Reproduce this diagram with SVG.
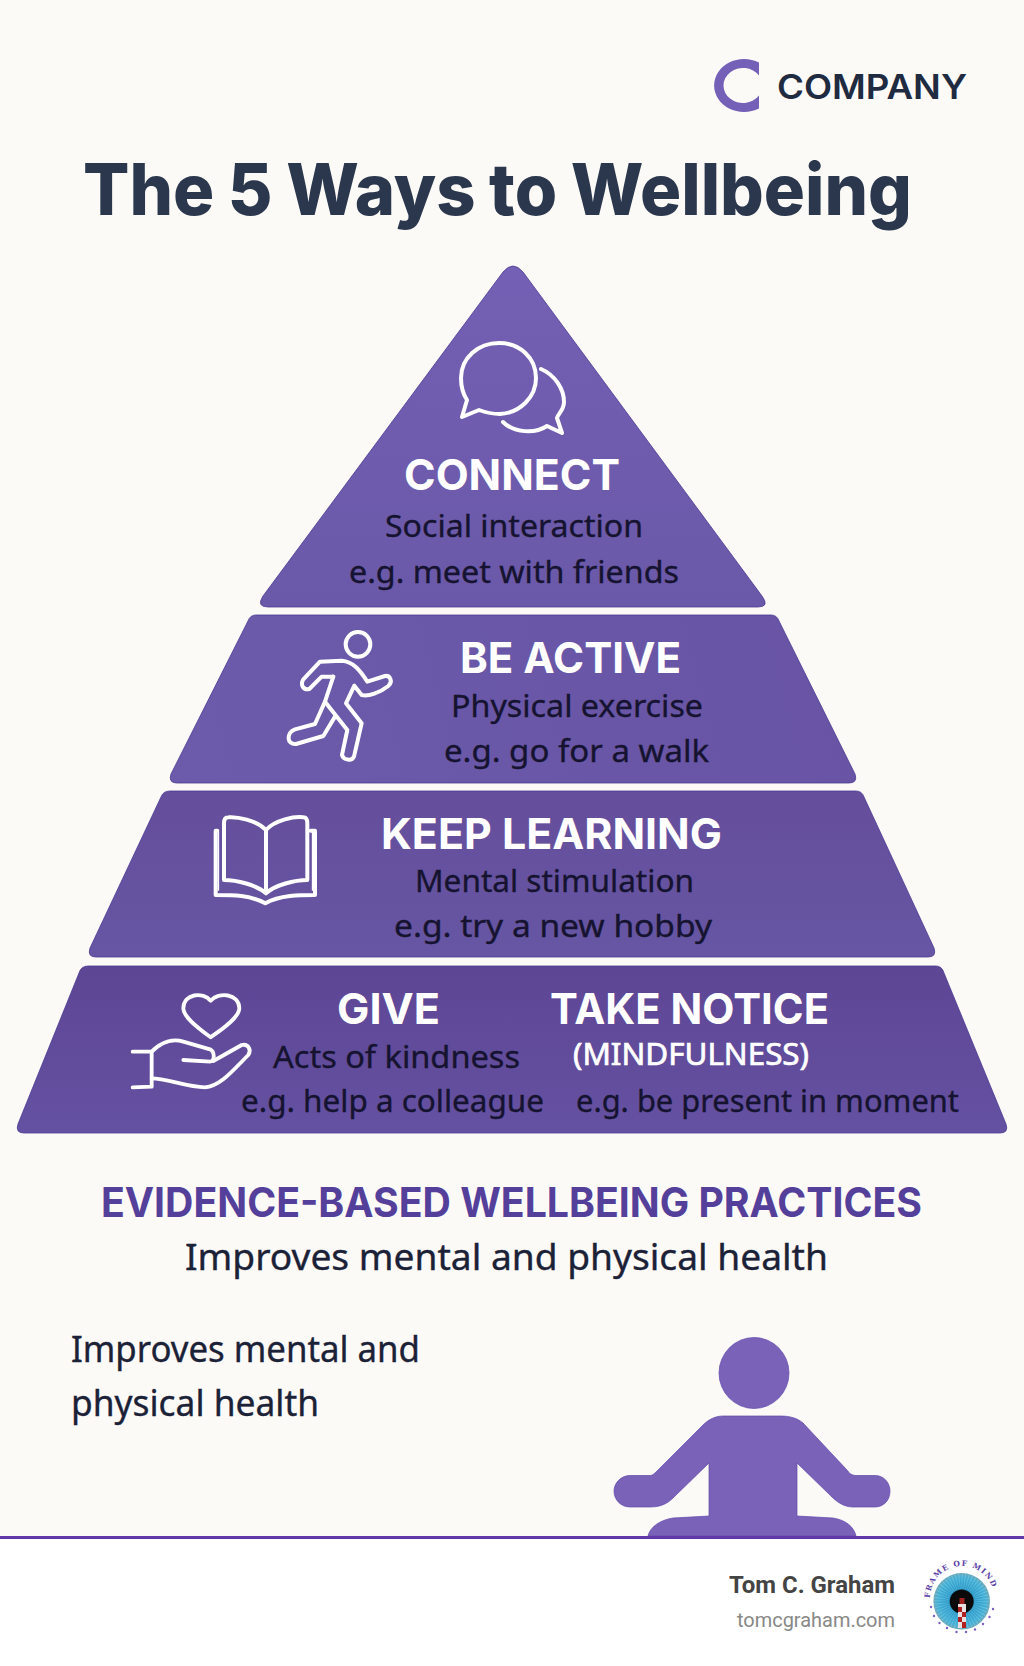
<svg xmlns="http://www.w3.org/2000/svg" width="1024" height="1666" viewBox="0 0 1024 1666">
<style>
.h{font-family:"Inter","Liberation Sans",sans-serif;font-weight:700;font-size:43px;fill:#fff}
.b{font-family:"Noto Sans","Liberation Sans",sans-serif;font-weight:400;font-size:31px;fill:#15132f;stroke:#15132f;stroke-width:.35}
.t{font-family:"Noto Sans","Liberation Sans",sans-serif;font-weight:400;font-size:36px;fill:#1b2136;stroke:#1b2136;stroke-width:.35}
.ic{fill:none;stroke:#fff;stroke-linecap:round;stroke-linejoin:round}
.bd{stroke:#4a3a92;stroke-width:.8}
</style>
<defs>
<linearGradient id="g1" gradientUnits="userSpaceOnUse" x1="513" y1="266" x2="513" y2="607"><stop offset="0" stop-color="#7460b4"/><stop offset="1" stop-color="#6a58a8"/></linearGradient>
<linearGradient id="g2" gradientUnits="userSpaceOnUse" x1="170" y1="783" x2="856" y2="615"><stop offset="0" stop-color="#6c5bab"/><stop offset=".6" stop-color="#6956a7"/><stop offset="1" stop-color="#6954a4"/></linearGradient>
<linearGradient id="g3" gradientUnits="userSpaceOnUse" x1="512" y1="791" x2="512" y2="957"><stop offset="0" stop-color="#654e9c"/><stop offset="1" stop-color="#6656a3"/></linearGradient>
<linearGradient id="g4" gradientUnits="userSpaceOnUse" x1="512" y1="966" x2="512" y2="1133"><stop offset="0" stop-color="#5d4694"/><stop offset="1" stop-color="#6551a2"/></linearGradient>
<radialGradient id="iris" cx=".5" cy=".5" r=".5"><stop offset="0" stop-color="#1878a4"/><stop offset=".5" stop-color="#2e9ccb"/><stop offset=".85" stop-color="#45b0d6"/><stop offset="1" stop-color="#6fa8b8"/></radialGradient>
<path id="arc" d="M930,1598 A32,32 0 1 1 994,1598"/>
</defs>
<rect width="1024" height="1537" fill="#fcfaf7"/>
<rect y="1537" width="1024" height="129" fill="#fff"/>

<g id="logo-company">
<path d="M759,62.500 A30,26.500 0 1 0 759,108.500 L759,95.500 A19.500,17.500 0 1 1 759,75.500 Z" fill="#7460b6"/>
<text x="777" y="99" font-family="Inter,'Liberation Sans',sans-serif" font-weight="600" font-size="34" fill="#1f2b40" textLength="190" lengthAdjust="spacingAndGlyphs">COMPANY</text>
</g>
<text id="title" x="83" y="215" font-family="Inter,'Liberation Sans',sans-serif" font-weight="800" font-size="71" word-spacing="-1.500" fill="#2a374c" textLength="829" lengthAdjust="spacingAndGlyphs">The 5 Ways to Wellbeing</text>

<g id="connect">
<path class="bd" fill="url(#g1)" d="M503,272 Q513,260 523,272 L762,596 Q770,607 758,607 L268,607 Q256,607 263,596 Z"/>
<g class="ic" stroke-width="4">
<path d="M467,400 L462,417 L479,410 C487,413 494,414 500,414 C520,413 536,397 536,378 C536,358 520,343 499,343 C478,343 461,358 461,378 C461,386 463,394 467,400 Z"/>
<path d="M541,369 C555,375 564,389 564,402 C564,410 558,414 557,418 L562,433 L547,426 C535,434 514,433 503,422"/>
</g>
<text class="h" x="404" y="490" textLength="216" lengthAdjust="spacingAndGlyphs">CONNECT</text>
<text class="b" x="385" y="537" textLength="258" lengthAdjust="spacingAndGlyphs">Social interaction</text>
<text class="b" x="349" y="583" textLength="330" lengthAdjust="spacingAndGlyphs">e.g. meet with friends</text>
</g>

<g id="be-active">
<path class="bd" fill="url(#g2)" d="M256,615 L771,615 Q777,615 779,621 L855,774 Q858,783 849,783 L177,783 Q168,783 171,774 L248,621 Q250,615 256,615 Z"/>
<g class="ic" transform="translate(270,620) scale(.3333)" stroke-width="12">
<circle cx="264" cy="73" r="37"/>
<path d="M190,170 L155,170 L118,207 C100,212 90,195 100,178 L150,125 L215,122 C250,125 270,150 292,185 L345,168 C360,165 370,185 355,198 C330,218 295,230 275,225 L253,197 L228,250 L275,310 L252,410 C245,425 220,420 216,405 L232,330 L165,245"/>
<path d="M190,170 L165,245 L135,312 L75,328 C48,338 50,375 78,372 L160,348 L195,290"/>
</g>
<text class="h" x="460" y="673" textLength="221" lengthAdjust="spacingAndGlyphs">BE ACTIVE</text>
<text class="b" x="451" y="717" textLength="252" lengthAdjust="spacingAndGlyphs">Physical exercise</text>
<text class="b" x="444" y="762" textLength="265" lengthAdjust="spacingAndGlyphs">e.g. go for a walk</text>
</g>

<g id="keep-learning">
<path class="bd" fill="url(#g3)" d="M170,791 L856,791 Q862,791 864,797 L934,948 Q937,957 928,957 L96,957 Q87,957 90,948 L161,797 Q163,791 170,791 Z"/>
<g class="ic" transform="translate(200,800) scale(.3333)" stroke-width="12">
<path d="M198,90 C170,60 110,50 85,52 C75,52 72,60 72,70 L72,240 C110,240 170,255 198,280 C225,255 285,240 322,240 L322,70 C322,60 320,52 310,52 C285,48 225,60 198,90 Z M198,90 L198,280"/>
<path d="M52,92 L47,92 L47,285 C100,285 150,285 196,310 C240,285 300,285 345,285 L345,92 L332,92"/>
<path d="M55,95 L55,270 M338,95 L338,270" stroke-width="5"/>
</g>
<text class="h" x="381" y="849" textLength="341" lengthAdjust="spacingAndGlyphs">KEEP LEARNING</text>
<text class="b" x="415" y="892" textLength="279" lengthAdjust="spacingAndGlyphs">Mental stimulation</text>
<text class="b" x="394" y="937" textLength="318" lengthAdjust="spacingAndGlyphs">e.g. try a new hobby</text>
</g>

<g id="give-take-notice">
<path class="bd" fill="url(#g4)" d="M88,966 L936,966 Q942,966 944,973 L1006,1124 Q1009,1133 1000,1133 L24,1133 Q15,1133 18,1124 L79,973 Q81,966 88,966 Z"/>
<g class="ic" transform="translate(120,980) scale(.3333)" stroke-width="11.500">
<path d="M272,62 C250,35 190,40 190,85 C190,115 250,155 272,172 C295,155 358,115 358,85 C358,40 295,35 272,62 Z"/>
<path d="M38,215 L95,215 L95,320 L38,322"/>
<path d="M95,215 C125,185 160,175 190,185 L270,208 C285,215 285,245 270,245 L190,240"/>
<path d="M280,243 L365,195 C385,190 395,210 385,225 C340,270 300,320 255,322 C200,322 140,295 95,295"/>
</g>
<text class="h" x="337" y="1023.500" textLength="103" lengthAdjust="spacingAndGlyphs">GIVE</text>
<text class="h" x="550" y="1023.500" textLength="279" lengthAdjust="spacingAndGlyphs">TAKE NOTICE</text>
<text class="b" x="273" y="1068" textLength="247" lengthAdjust="spacingAndGlyphs">Acts of kindness</text>
<text x="573" y="1065" font-family="'Noto Sans','Liberation Sans',sans-serif" font-weight="400" font-size="30" fill="#fff" stroke="#fff" stroke-width=".7" textLength="236" lengthAdjust="spacingAndGlyphs">(MINDFULNESS)</text>
<text class="b" x="241" y="1112" textLength="303" lengthAdjust="spacingAndGlyphs">e.g. help a colleague</text>
<text class="b" x="576" y="1112" textLength="383" lengthAdjust="spacingAndGlyphs">e.g. be present in moment</text>
</g>

<text id="evidence" x="101" y="1217" font-family="Inter,'Liberation Sans',sans-serif" font-weight="700" font-size="41" fill="#54409a" textLength="821" lengthAdjust="spacingAndGlyphs">EVIDENCE-BASED WELLBEING PRACTICES</text>
<text class="t" x="185" y="1270" textLength="643" lengthAdjust="spacingAndGlyphs">Improves mental and physical health</text>
<text class="t" x="71" y="1362" textLength="349" lengthAdjust="spacingAndGlyphs">Improves mental and</text>
<text class="t" x="71" y="1416" textLength="248" lengthAdjust="spacingAndGlyphs">physical health</text>

<g id="person" fill="#7a62b9" stroke="#5f48ab" stroke-width=".7">
<ellipse cx="754" cy="1373" rx="35" ry="35.500"/>
<path d="M723,1416 L780,1416 C790,1416 797,1418 803,1423 L847,1470 C849,1473 851,1475 855,1475.500 L875,1475.500 C884,1475.500 890,1483 890,1491 C890,1500 884,1507 875,1507 L853,1507 C845,1507 838,1503 832,1497 L797,1463 L797,1516 L833,1518 C846,1520 854,1527 856,1536 L648,1536 C650,1527 660,1520 673,1518 L709,1516 L709,1463 L673,1498 C667,1504 660,1507 650,1507 L630,1507 C621,1507 614,1500 614,1491 C614,1483 621,1475.500 630,1475.500 L650,1475.500 C652,1475.500 654,1474 655,1473 L703,1425 C709,1419 716,1416 723,1416 Z"/>
</g>
<rect id="rule" y="1536" width="1024" height="3" fill="#6038ac"/>

<g id="footer">
<text x="729" y="1593" font-family="Roboto,'Liberation Sans',sans-serif" font-weight="700" font-size="23" fill="#444" textLength="166" lengthAdjust="spacingAndGlyphs">Tom C. Graham</text>
<text x="737" y="1627" font-family="Roboto,'Liberation Sans',sans-serif" font-size="20" fill="#888" textLength="158" lengthAdjust="spacingAndGlyphs">tomcgraham.com</text>
<g id="frame-of-mind">
<circle cx="961.700" cy="1601.300" r="28.300" fill="url(#iris)"/>
<circle cx="961.700" cy="1601.300" r="20" fill="none" stroke="#8ed8ec" stroke-width="15" stroke-dasharray=".8 1.800" opacity=".45"/>
<circle cx="961.700" cy="1601.500" r="12" fill="#0a0a0a"/>
<rect x="958" y="1604" width="8" height="24" fill="#e8e0e0"/>
<path d="M958,1607H962V1612H958ZM962,1612H966V1617H962ZM958,1617H962V1622H958ZM962,1622H966V1628H962Z" fill="#b02020"/>
<rect x="959.500" y="1598" width="5" height="6" fill="#a02020"/>
<text font-family="'DejaVu Serif','Liberation Serif',serif" font-weight="700" font-size="7.500" fill="#5b3fa8" letter-spacing="1.300"><textPath href="#arc" startOffset="0">FRAME OF MIND</textPath></text>
<g fill="#7a60c0"><circle cx="931" cy="1607" r="1.200"/><circle cx="934" cy="1616" r="1.200"/><circle cx="939.500" cy="1623" r="1.200"/><circle cx="947" cy="1628" r="1.200"/><circle cx="956.500" cy="1632" r="1.200"/><circle cx="966" cy="1632" r="1.200"/><circle cx="975" cy="1629.500" r="1.200"/><circle cx="983" cy="1624" r="1.200"/><circle cx="989.500" cy="1617" r="1.200"/><circle cx="993" cy="1609" r="1.200"/></g>
</g>
</g>
</svg>
